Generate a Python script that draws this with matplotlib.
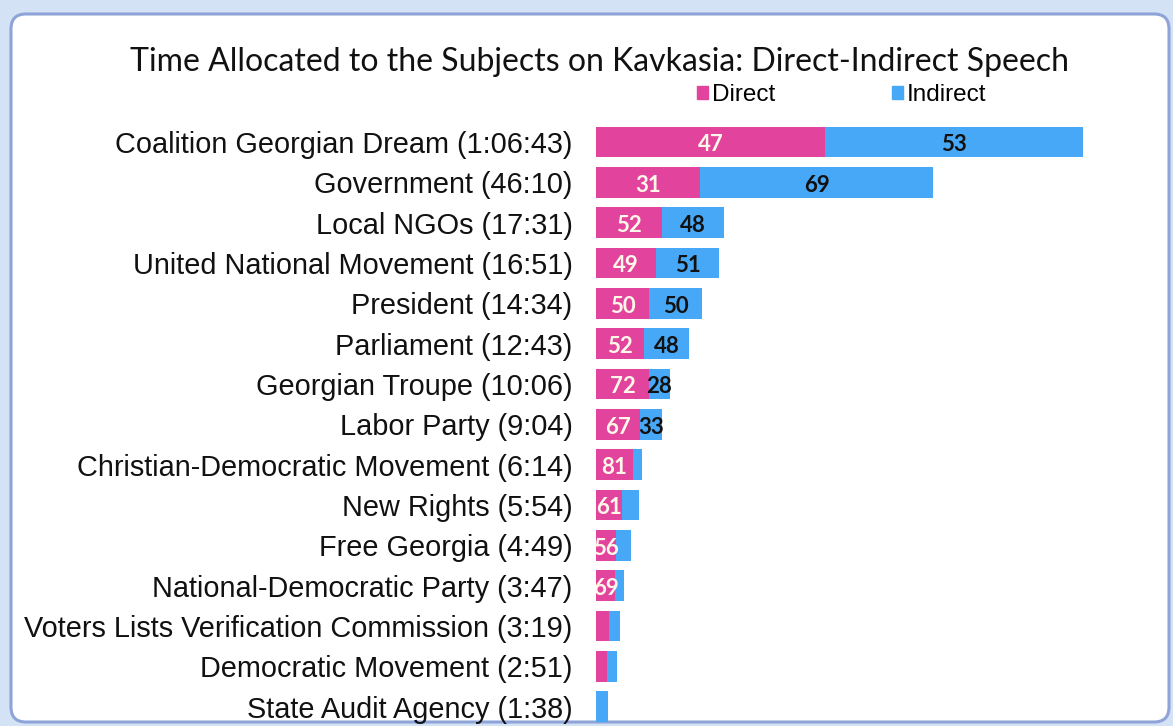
import matplotlib.pyplot as plt
from matplotlib.patches import FancyBboxPatch, Patch
import numpy as np

subjects = ['Coalition Georgian Dream', 'Government', 'Local NGOs',
            'United National Movement', 'President', 'Parliament',
            'Georgian Troupe', 'Labor Party', 'Christian-Democratic Movement',
            'New Rights', 'Free Georgia', 'National-Democratic Party',
            'Voters Lists Verification Commission', 'Democratic Movement',
            'State Audit Agency']
times = ['1:06:43', '46:10', '17:31', '16:51', '14:34', '12:43', '10:06',
         '9:04', '6:14', '5:54', '4:49', '3:47', '3:19', '2:51', '1:38']
direct_pct = [47, 31, 52, 49, 50, 52, 72, 67, 81, 61, 56, 69, 54, 52, 0]

pink = '#e2449d'
blue = '#46a8f6'


def to_seconds(t):
    s = 0
    for part in t.split(':'):
        s = s * 60 + int(part)
    return s


total = np.array([to_seconds(t) for t in times], dtype=float)
direct_pct = np.array(direct_pct, dtype=float)
indirect_pct = 100 - direct_pct
direct = total * direct_pct / 100
indirect = total - direct
labels = ['%s (%s)' % (s, t) for s, t in zip(subjects, times)]
y = np.arange(len(subjects))

fig = plt.figure(figsize=(11.73, 7.26), dpi=100, facecolor='#d3e2f4')

# window frame
frame = FancyBboxPatch((0.11, 0.04), 11.58, 7.08,
                       boxstyle='round,pad=0,rounding_size=0.15',
                       transform=fig.dpi_scale_trans, facecolor='white',
                       edgecolor='#8ea4d8', lw=2.2, zorder=-10)
fig.patches.append(frame)

ax_left, ax_right = 596 / 1173, 1150 / 1173
ax_top, ax_bot = 121.8 / 726, 727 / 726
ax = fig.add_axes([ax_left, 1 - ax_bot, ax_right - ax_left, ax_bot - ax_top])
ax.patch.set_alpha(0)

h = 0.76
ax.barh(y, direct, height=h, color=pink, label='Direct')
ax.barh(y, indirect, left=direct, height=h, color=blue, label='Indirect')

for i in range(len(y)):
    if direct[i] >= 150:
        ax.text(direct[i] / 2, y[i] + 0.02, '%d' % direct_pct[i], ha='center',
                va='center_baseline', color='#fff8e8', fontsize=16,
                fontweight='bold', family='Lato', clip_on=True)
    if indirect[i] >= 150:
        ax.text(direct[i] + indirect[i] / 2, y[i] + 0.02,
                '%d' % indirect_pct[i], ha='center', va='center_baseline',
                color='#111111', fontsize=16, fontweight='bold',
                family='Lato', clip_on=True)

ax.set_xlim(0, total.max() * (1150 - 596) / (1083 - 596))
ax.set_ylim(len(y) - 0.5, -0.5)
ax.set_yticks(y)
ax.set_yticklabels(labels, fontsize=20.8, family='Liberation Sans',
                   color='#111111')
ax.tick_params(axis='y', length=0, pad=17)
ax.set_xticks([])
for sp in ax.spines.values():
    sp.set_visible(False)

fig.text(600 / 1173, 1 - 62 / 726,
         'Time Allocated to the Subjects on Kavkasia: Direct-Indirect Speech',
         ha='center', va='center', fontsize=23, family='Lato', color='#111111')

handles = [Patch(color=pink), Patch(color=blue)]
fig.legend(handles, ['Direct', 'Indirect'], loc='center left',
           bbox_to_anchor=(675 / 1173, 1 - 95 / 726), ncol=2, frameon=False,
           handlelength=0.45, handleheight=0.45, handletextpad=0.17,
           columnspacing=4.8, prop={'family': 'Liberation Sans', 'size': 17.5})

fig.savefig('out.png', dpi=100, facecolor=fig.get_facecolor())
